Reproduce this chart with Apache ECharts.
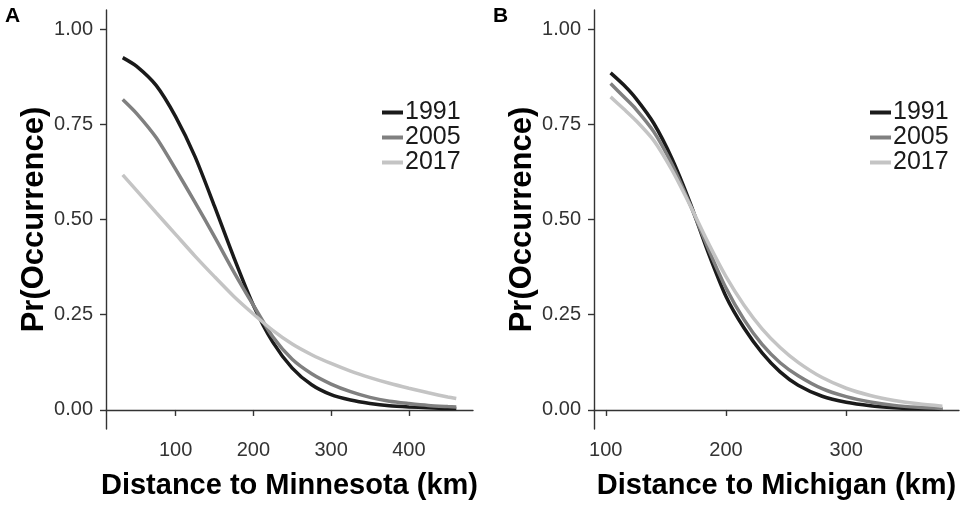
<!DOCTYPE html>
<html>
<head>
<meta charset="utf-8">
<script src="https://cdn.jsdelivr.net/npm/echarts@6/dist/echarts.min.js"></script>
<style>
  html, body { margin: 0; padding: 0; background: #fff; }
  #chart { width: 962px; height: 505px; }
</style>
</head>
<body>
<div id="chart"></div>
<script>
// panel A: distance to Minnesota (km)
var distA = [32, 50, 75, 100, 125, 150, 175, 200, 225, 250, 275, 300, 325, 350, 375, 400, 425, 450, 461];
var a1991 = [0.925, 0.902, 0.852, 0.770, 0.665, 0.535, 0.400, 0.275, 0.178, 0.110, 0.066, 0.040, 0.026, 0.017, 0.011, 0.008, 0.006, 0.004, 0.004];
var a2005 = [0.815, 0.778, 0.715, 0.632, 0.545, 0.455, 0.362, 0.275, 0.192, 0.133, 0.095, 0.068, 0.048, 0.033, 0.023, 0.017, 0.012, 0.009, 0.008];
var a2017 = [0.617, 0.576, 0.518, 0.461, 0.404, 0.350, 0.298, 0.252, 0.209, 0.173, 0.145, 0.122, 0.102, 0.085, 0.070, 0.057, 0.045, 0.034, 0.030];

// panel B: distance to Michigan (km)
var distB = [104, 115, 125, 140, 155, 170, 185, 200, 215, 230, 245, 260, 280, 300, 320, 340, 360, 380];
var b1991 = [0.885, 0.853, 0.818, 0.752, 0.660, 0.545, 0.415, 0.298, 0.215, 0.150, 0.100, 0.065, 0.036, 0.020, 0.011, 0.006, 0.003, 0.002];
var b2005 = [0.857, 0.822, 0.790, 0.730, 0.645, 0.540, 0.425, 0.320, 0.237, 0.172, 0.124, 0.090, 0.056, 0.035, 0.021, 0.012, 0.007, 0.004];
var b2017 = [0.822, 0.790, 0.760, 0.707, 0.630, 0.538, 0.440, 0.350, 0.275, 0.213, 0.164, 0.125, 0.085, 0.057, 0.038, 0.025, 0.016, 0.010];

var years = ["1991", "2005", "2017"];
var yearColors = ["#1a1a1a", "#808080", "#c4c4c4"];
var yTicks = [0, 0.25, 0.5, 0.75, 1];
var xTicksA = [100, 200, 300, 400];
var xTicksB = [100, 200, 300];

var FONT = "Liberation Sans, Arial, sans-serif";
var AXIS_COLOR = "#333";

function pairs(xs, ys) {
  var out = [];
  for (var i = 0; i < xs.length; i++) {
    out.push([xs[i], ys[i]]);
  }
  return out;
}

function xAxisFor(idx, min, max, ticks, name) {
  return {
    type: "value",
    gridIndex: idx,
    min: min,
    max: max,
    name: name,
    nameLocation: "middle",
    nameGap: 42,
    nameTextStyle: { fontFamily: FONT, fontSize: 29, fontWeight: "bold", color: "#000" },
    axisLine: { show: true, lineStyle: { color: AXIS_COLOR, width: 1.4 } },
    axisTick: { show: true, length: 6, customValues: ticks, lineStyle: { color: AXIS_COLOR, width: 1.4 } },
    axisLabel: { customValues: ticks, margin: 11, fontFamily: FONT, fontSize: 20, color: "#333" },
    splitLine: { show: false },
  };
}

function yAxisFor(idx) {
  return {
    type: "value",
    gridIndex: idx,
    min: -0.05,
    max: 1.05,
    name: "Pr(Occurrence)",
    nameLocation: "middle",
    nameGap: 56,
    nameTextStyle: { fontFamily: FONT, fontSize: 31, fontWeight: "bold", color: "#000" },
    axisLine: { show: true, lineStyle: { color: AXIS_COLOR, width: 1.4 } },
    axisTick: { show: true, length: 6, customValues: yTicks, lineStyle: { color: AXIS_COLOR, width: 1.4 } },
    axisLabel: {
      customValues: yTicks,
      margin: 13,
      fontFamily: FONT,
      fontSize: 20,
      color: "#333",
      formatter: function (v) { return v.toFixed(2); },
    },
    splitLine: { show: false },
  };
}

function lineSeries(idx, name, color, xs, ys) {
  return {
    type: "line",
    name: name,
    xAxisIndex: idx,
    yAxisIndex: idx,
    data: pairs(xs, ys),
    showSymbol: false,
    smooth: 0.25,
    lineStyle: { color: color, width: 3.5 },
    itemStyle: { color: color },
    silent: true,
  };
}

function legendFor(left) {
  return {
    left: left,
    top: 95,
    orient: "vertical",
    data: years,
    icon: "rect",
    itemWidth: 21,
    itemHeight: 4,
    itemGap: 0,
    selectedMode: false,
    textStyle: { fontFamily: FONT, fontSize: 25, color: "#1a1a1a", padding: [0, 0, 0, -3], lineHeight: 25 },
  };
}

var series = [
  lineSeries(0, years[0], yearColors[0], distA, a1991),
  lineSeries(0, years[1], yearColors[1], distA, a2005),
  lineSeries(0, years[2], yearColors[2], distA, a2017),
  lineSeries(1, years[0], yearColors[0], distB, b1991),
  lineSeries(1, years[1], yearColors[1], distB, b2005),
  lineSeries(1, years[2], yearColors[2], distB, b2017),
];

var chart = echarts.init(document.getElementById("chart"), null, { renderer: "canvas" });
chart.setOption({
  animation: false,
  backgroundColor: "#fff",
  grid: [
    { left: 106, top: 10, width: 367, height: 419 },
    { left: 594, top: 10, width: 365, height: 419 },
  ],
  xAxis: [
    xAxisFor(0, 10.5, 482.5, xTicksA, "Distance to Minnesota (km)"),
    xAxisFor(1, 90.2, 393.8, xTicksB, "Distance to Michigan (km)"),
  ],
  yAxis: [yAxisFor(0), yAxisFor(1)],
  legend: [legendFor(377), legendFor(865)],
  graphic: [
    { type: "text", left: 5, top: 6, style: { text: "A", fontFamily: FONT, fontSize: 21, fontWeight: "bold", fill: "#000" } },
    { type: "text", left: 493, top: 6, style: { text: "B", fontFamily: FONT, fontSize: 21, fontWeight: "bold", fill: "#000" } },
  ],
  series: series,
});
</script>
</body>
</html>
